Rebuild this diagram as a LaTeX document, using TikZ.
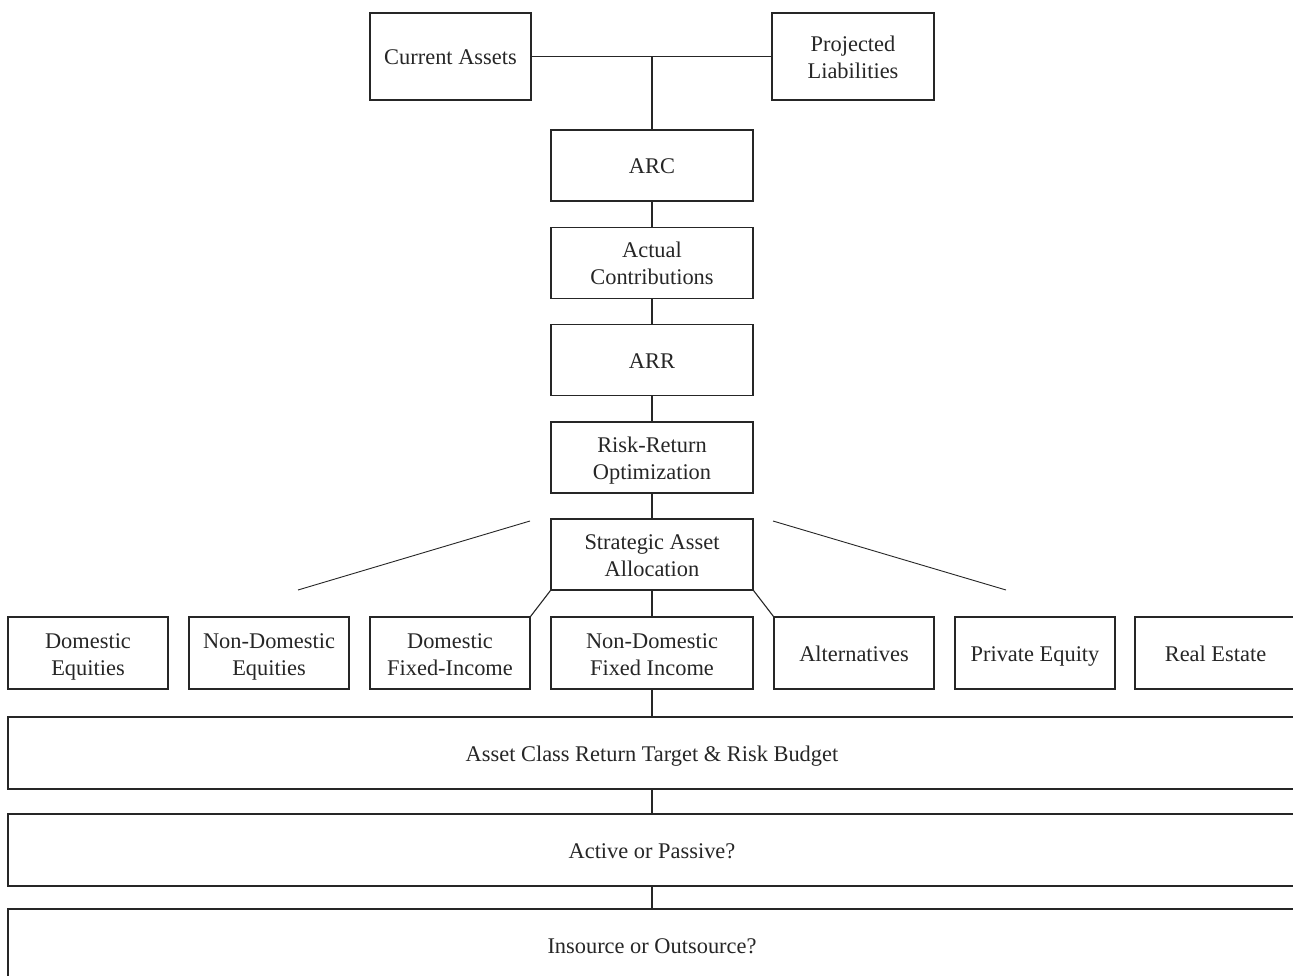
\documentclass[tikz,border=0pt]{standalone}
\usepackage{fontspec}
\setmainfont{Liberation Serif}
\definecolor{ink}{rgb}{0.15,0.15,0.15}
\newcommand\sx{\rule[-5pt]{0pt}{27pt}}
\begin{document}
\begin{tikzpicture}[x=1pt,y=-1pt,
  every node/.style={font=\fontsize{22.4}{27}\selectfont, text=ink},
  box/.style={draw=ink, line width=1.1pt, align=center, inner sep=0pt, anchor=center},
  conn/.style={draw=ink, line width=1.1pt}]
\clip (0,0) rectangle (1293,976);
\fill[white] (0,0) rectangle (1293,976);
% top
\node[box, minimum width=161pt, minimum height=87pt] (ca) at (450.5,56.5) {\sx Current Assets};
\node[box, minimum width=162pt, minimum height=87pt] (pl) at (853,56.5) {\sx Projected\\\sx Liabilities};
\node[box, minimum width=202pt, minimum height=71pt] (arc) at (652,165.5) {\sx ARC};
\node[box, minimum width=202pt, minimum height=71pt] (ac) at (652,263) {\sx Actual\\\sx Contributions};
\node[box, minimum width=202pt, minimum height=71pt] (arr) at (652,360) {\sx ARR};
\node[box, minimum width=202pt, minimum height=71pt] (rr) at (652,457.5) {\sx Risk-Return\\\sx Optimization};
\node[box, minimum width=202pt, minimum height=71pt] (saa) at (652,554.5) {\sx Strategic Asset\\\sx Allocation};
% asset classes
\node[box, minimum width=160pt, minimum height=72pt] (de) at (88,653) {\sx Domestic\\\sx Equities};
\node[box, minimum width=160pt, minimum height=72pt] (nde) at (269,653) {\sx Non-Domestic\\\sx Equities};
\node[box, minimum width=160pt, minimum height=72pt] (dfi) at (450,653) {\sx Domestic\\\sx Fixed-Income};
\node[box, minimum width=202pt, minimum height=72pt] (ndfi) at (652,653) {\sx Non-Domestic\\\sx Fixed Income};
\node[box, minimum width=160pt, minimum height=72pt] (alt) at (854,653) {\sx Alternatives};
\node[box, minimum width=160pt, minimum height=72pt] (pe) at (1035,653) {\sx Private Equity};
\node[box, minimum width=161pt, minimum height=72pt] (re) at (1215.5,653) {\sx Real Estate};
% wide boxes
\node[box, minimum width=1288pt, minimum height=72pt] (acrt) at (652,753) {\sx Asset Class Return Target \& Risk Budget};
\node[box, minimum width=1288pt, minimum height=72pt] (ap) at (652,850) {\sx Active or Passive?};
\node[box, minimum width=1288pt, minimum height=72pt] (io) at (652,945) {\sx Insource or Outsource?};
% connectors
\draw[conn] (ca.east) -- (pl.west);
\coordinate (j) at (arc.north |- ca.east);
\draw[conn] (j) -- (arc.north);
\draw[conn] (arc.south) -- (ac.north);
\draw[conn] (ac.south) -- (arr.north);
\draw[conn] (arr.south) -- (rr.north);
\draw[conn] (rr.south) -- (saa.north);
\draw[conn] (saa.south) -- (ndfi.north);
\draw[conn] (saa.south west) -- (dfi.north east);
\draw[conn] (saa.south east) -- (alt.north west);
\draw[conn] (ndfi.south) -- (acrt.north);
\draw[conn] (acrt.south) -- (ap.north);
\draw[conn] (ap.south) -- (io.north);
% free diagonal strokes
\coordinate (l1) at (530,521);
\coordinate (l2) at (298,590);
\coordinate (r1) at (773,521);
\coordinate (r2) at (1006,590);
\draw[conn, line width=0.9pt] (l1) -- (l2);
\draw[conn, line width=0.9pt] (r1) -- (r2);
\end{tikzpicture}
\end{document}
